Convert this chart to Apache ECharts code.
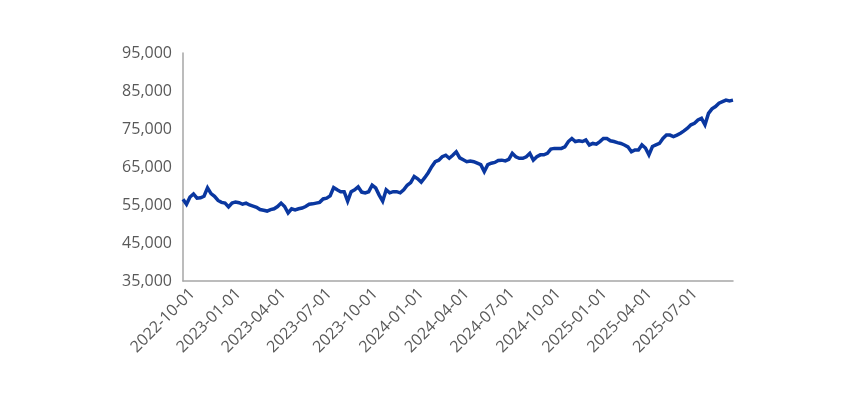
<!DOCTYPE html>
<html>
<head>
    <meta charset="utf-8">
    <title>ECharts</title>
    <script src="https://cdn.jsdelivr.net/npm/echarts@6/dist/echarts.min.js"></script>
    <style>
        body { margin: 0; background: #fff; }
    </style>
</head>
<body>
    <div id="main" style="width: 867px;height:397px;"></div>
    <script type="text/javascript">
        // weekly samples
        var dates = [
            '2022-09-12','2022-09-19','2022-09-26','2022-10-03','2022-10-10','2022-10-17','2022-10-24','2022-10-31',
            '2022-11-07','2022-11-14','2022-11-21','2022-11-28','2022-12-05','2022-12-12','2022-12-19','2022-12-26',
            '2023-01-02','2023-01-09','2023-01-16','2023-01-23','2023-01-30','2023-02-06','2023-02-13','2023-02-20',
            '2023-02-27','2023-03-06','2023-03-13','2023-03-20','2023-03-27','2023-04-03','2023-04-10','2023-04-17',
            '2023-04-24','2023-05-01','2023-05-08','2023-05-15','2023-05-22','2023-05-29','2023-06-05','2023-06-12',
            '2023-06-19','2023-06-26','2023-07-03','2023-07-10','2023-07-17','2023-07-24','2023-07-31','2023-08-07',
            '2023-08-14','2023-08-21','2023-08-28','2023-09-04','2023-09-11','2023-09-18','2023-09-25','2023-10-02',
            '2023-10-09','2023-10-16','2023-10-23','2023-10-30','2023-11-06','2023-11-13','2023-11-20','2023-11-27',
            '2023-12-04','2023-12-11','2023-12-18','2023-12-25','2024-01-01','2024-01-08','2024-01-15','2024-01-22',
            '2024-01-29','2024-02-05','2024-02-12','2024-02-19','2024-02-26','2024-03-04','2024-03-11','2024-03-18',
            '2024-03-25','2024-04-01','2024-04-08','2024-04-15','2024-04-22','2024-04-29','2024-05-06','2024-05-13',
            '2024-05-20','2024-05-27','2024-06-03','2024-06-10','2024-06-17','2024-06-24','2024-07-01','2024-07-08',
            '2024-07-15','2024-07-22','2024-07-29','2024-08-05','2024-08-12','2024-08-19','2024-08-26','2024-09-02',
            '2024-09-09','2024-09-16','2024-09-23','2024-09-30','2024-10-07','2024-10-14','2024-10-21','2024-10-28',
            '2024-11-04','2024-11-11','2024-11-18','2024-11-25','2024-12-02','2024-12-09','2024-12-16','2024-12-23',
            '2024-12-30','2025-01-06','2025-01-13','2025-01-20','2025-01-27','2025-02-03','2025-02-10','2025-02-17',
            '2025-02-24','2025-03-03','2025-03-10','2025-03-17','2025-03-24','2025-03-31','2025-04-07','2025-04-14',
            '2025-04-21','2025-04-28','2025-05-05','2025-05-12','2025-05-19','2025-05-26','2025-06-02','2025-06-09',
            '2025-06-16','2025-06-23','2025-06-30','2025-07-07','2025-07-14','2025-07-21','2025-07-28','2025-08-04',
            '2025-08-11','2025-08-18','2025-08-25','2025-09-01','2025-09-08','2025-09-15'
        ];
        var values = [
            56500, 55200, 57100, 57900, 56800, 56900, 57300, 59500,
            58000, 57300, 56200, 55700, 55500, 54500, 55500, 55800,
            55600, 55200, 55500, 55000, 54700, 54400, 53800, 53600,
            53400, 53800, 54000, 54600, 55500, 54600, 52900, 54000,
            53700, 54000, 54200, 54600, 55200, 55300, 55500, 55700,
            56600, 56800, 57400, 59600, 59000, 58500, 58500, 56000,
            58500, 59000, 59800, 58400, 58200, 58500, 60200, 59500,
            57600, 56000, 59000, 58200, 58500, 58500, 58200, 59000,
            60200, 60900, 62500, 61900, 61000, 62200, 63500, 65100,
            66400, 66800, 67700, 68100, 67300, 68100, 69000, 67400,
            66900, 66400, 66600, 66400, 66000, 65600, 63800, 65600,
            66000, 66200, 66700, 66800, 66600, 67000, 68600, 67700,
            67300, 67300, 67700, 68600, 66800, 67700, 68200, 68200,
            68600, 69700, 69900, 69900, 69900, 70300, 71700, 72500,
            71700, 71900, 71700, 72100, 70800, 71200, 71000, 71700,
            72500, 72500, 71900, 71700, 71400, 71200, 70800, 70300,
            69000, 69500, 69500, 70800, 70000, 68200, 70400, 70800,
            71200, 72500, 73400, 73400, 73000, 73400, 73900, 74500,
            75200, 76100, 76500, 77400, 77800, 76100, 79100, 80300,
            80900, 81800, 82200, 82600, 82400, 82600
        ];
        var labelDates = [
            '2022-10-01','2023-01-01','2023-04-01','2023-07-01','2023-10-01','2024-01-01',
            '2024-04-01','2024-07-01','2024-10-01','2025-01-01','2025-04-01','2025-07-01'
        ];

        var seriesData = [];
        for (var i = 0; i < dates.length; i++) {
            seriesData.push([dates[i], values[i]]);
        }
        var labelValues = labelDates.map(function (d) { return +echarts.time.parse(d); });

        var myChart = echarts.init(document.getElementById('main'));

        var option = {
            animation: false,
            grid: { left: 183, right: 134, top: 53, bottom: 116 },
            xAxis: {
                type: 'time',
                min: dates[0],
                max: dates[dates.length - 1],
                splitLine: { show: false },
                axisTick: { show: false },
                axisLine: { lineStyle: { color: '#a6a6a6', width: 1.5 } },
                axisLabel: {
                    customValues: labelValues,
                    rotate: 45,
                    margin: 10,
                    color: '#595959',
                    fontSize: 16,
                    fontFamily: 'Open Sans',
                    formatter: '{yyyy}-{MM}-{dd}'
                }
            },
            yAxis: {
                type: 'value',
                min: 35000,
                max: 95000,
                interval: 10000,
                splitLine: { show: false },
                axisTick: { show: false },
                axisLine: { show: true, lineStyle: { color: '#a6a6a6', width: 1.5 } },
                axisLabel: {
                    margin: 11,
                    color: '#595959',
                    fontSize: 16,
                    fontFamily: 'Open Sans',
                    formatter: function (v) {
                        return v.toLocaleString('en-US');
                    }
                }
            },
            series: [{
                type: 'line',
                data: seriesData,
                showSymbol: false,
                lineStyle: { color: '#0a37a0', width: 3.5, join: 'miter' },
                itemStyle: { color: '#0a37a0' }
            }]
        };

        myChart.setOption(option);
    </script>
</body>
</html>
